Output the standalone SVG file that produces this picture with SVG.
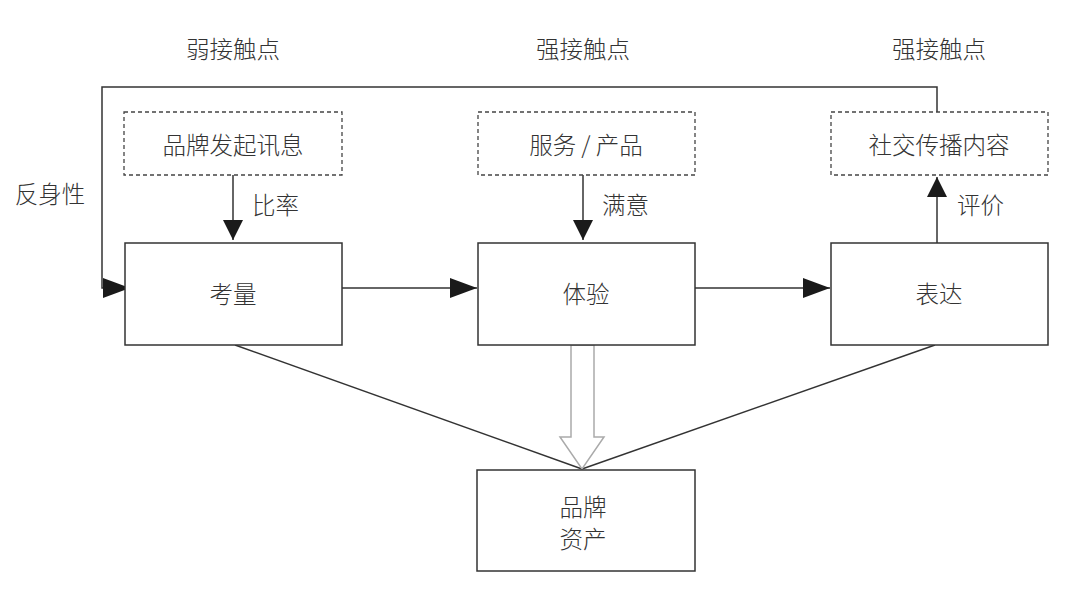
<svg xmlns="http://www.w3.org/2000/svg" width="1080" height="598" viewBox="0 0 1080 598">
<style>
.t{font-family:"Noto Sans CJK SC","Noto Sans",sans-serif;font-size:23.5px;fill:#333;font-weight:300}
.box{fill:#fff;stroke:#333;stroke-width:1.5}
.dbox{fill:#fff;stroke:#444;stroke-width:1.3;stroke-dasharray:4,3}
.ln{fill:none;stroke:#333;stroke-width:1.5}
</style>
<defs>
<marker id="ah" viewBox="0 0 10 10" refX="10" refY="5" markerWidth="20" markerHeight="20" markerUnits="userSpaceOnUse" orient="auto">
<path d="M0,0 L10,5 L0,10 Z" fill="#1a1a1a"/>
</marker>
<marker id="ahl" viewBox="0 0 10 10" refX="10" refY="5" markerWidth="27" markerHeight="20" markerUnits="userSpaceOnUse" orient="auto" preserveAspectRatio="none">
<path d="M0,0 L10,5 L0,10 Z" fill="#1a1a1a"/>
</marker>
</defs>
<rect width="1080" height="598" fill="#fff"/>
<g id="labels">
<text class="t" x="233" y="58" text-anchor="middle">弱接触点</text>
<text class="t" x="583" y="58" text-anchor="middle">强接触点</text>
<text class="t" x="939" y="58" text-anchor="middle">强接触点</text>
<text class="t" x="50" y="203" text-anchor="middle">反身性</text>
</g>
<g id="connectors">
<path class="ln" d="M937,112 V87 H102 V288 H130" marker-end="url(#ahl)"/>
<line class="ln" x1="233" y1="175" x2="233" y2="240" marker-end="url(#ah)"/>
<line class="ln" x1="583" y1="175" x2="583" y2="240" marker-end="url(#ah)"/>
<line class="ln" x1="937" y1="243" x2="937" y2="177" marker-end="url(#ah)"/>
<line class="ln" x1="342" y1="288" x2="477" y2="288" marker-end="url(#ahl)"/>
<line class="ln" x1="695" y1="288" x2="830" y2="288" marker-end="url(#ahl)"/>
<line class="ln" x1="235" y1="345" x2="582" y2="469"/>
<line class="ln" x1="935" y1="345" x2="582" y2="469"/>
<path d="M571,345 V437 H560 L582,469 L604,437 H594 V345 Z" fill="#fff" stroke="#aaa" stroke-width="1.5"/>
<text class="t" x="252" y="214">比率</text>
<text class="t" x="602" y="214">满意</text>
<text class="t" x="957" y="214">评价</text>
</g>
<g id="n1"><rect class="dbox" x="124" y="112" width="218" height="63"/><text class="t" x="233" y="154" text-anchor="middle">品牌发起讯息</text></g>
<g id="n2"><rect class="dbox" x="478" y="112" width="217" height="63"/><text class="t" x="586" y="154" text-anchor="middle">服务 / 产品</text></g>
<g id="n3"><rect class="dbox" x="831" y="112" width="217" height="63"/><text class="t" x="939" y="154" text-anchor="middle">社交传播内容</text></g>
<g id="n4"><rect class="box" x="125" y="243" width="217" height="102"/><text class="t" x="233" y="303" text-anchor="middle">考量</text></g>
<g id="n5"><rect class="box" x="478" y="243" width="217" height="102"/><text class="t" x="586" y="303" text-anchor="middle">体验</text></g>
<g id="n6"><rect class="box" x="831" y="243" width="217" height="102"/><text class="t" x="939" y="303" text-anchor="middle">表达</text></g>
<g id="n7"><rect class="box" x="477" y="470" width="218" height="101"/><text class="t" x="583" y="516" text-anchor="middle">品牌</text><text class="t" x="583" y="548" text-anchor="middle">资产</text></g>
</svg>
